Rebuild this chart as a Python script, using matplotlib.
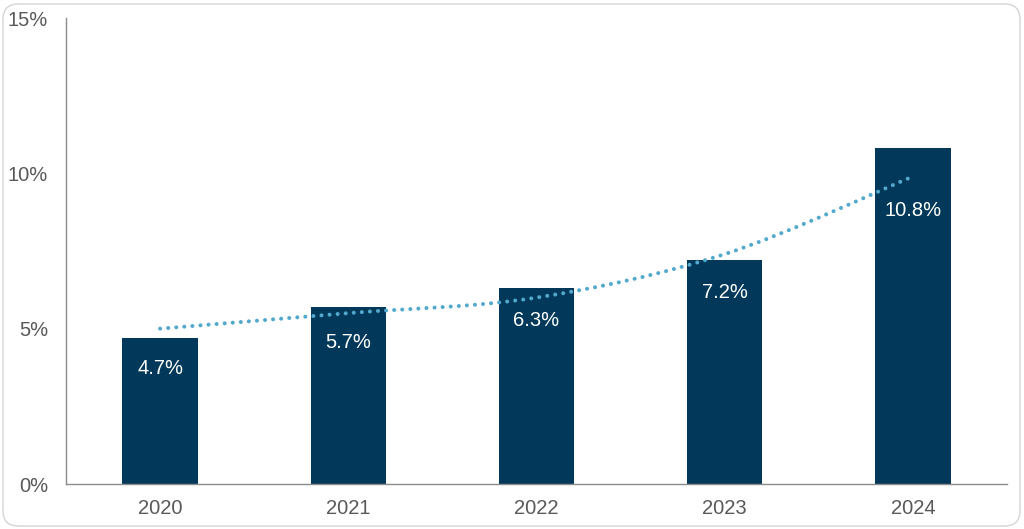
import numpy as np
import matplotlib
matplotlib.use("Agg")
import matplotlib.pyplot as plt
from matplotlib.patches import FancyBboxPatch
from matplotlib.path import Path
from matplotlib.patches import PathPatch

# ===== 数据 =====
years = ["2020", "2021", "2022", "2023", "2024"]
values = [4.7, 5.7, 6.3, 7.2, 10.8]
trend = [5.0, 5.5, 6.0, 7.4, 9.9]   # 图上的虚线趋势
y_ticks = [0, 5, 10, 15]

plt.rcParams['font.family'] = ['Liberation Sans', 'DejaVu Sans']

BAR_COLOR = '#023859'
TREND_COLOR = '#52A9CC'
TEXT_GRAY = '#595959'


def smooth_path(xs, ys, t=1 / 6):
    # Catmull-Rom 式的平滑曲线（类似 Excel 平滑线）
    verts = [(xs[0], ys[0])]
    codes = [Path.MOVETO]
    n = len(xs)
    for i in range(n - 1):
        x0, y0 = (xs[i - 1], ys[i - 1]) if i > 0 else (xs[i], ys[i])
        x1, y1 = xs[i], ys[i]
        x2, y2 = xs[i + 1], ys[i + 1]
        x3, y3 = (xs[i + 2], ys[i + 2]) if i + 2 < n else (x2, y2)
        c1 = (x1 + (x2 - x0) * t, y1 + (y2 - y0) * t)
        c2 = (x2 - (x3 - x1) * t, y2 - (y3 - y1) * t)
        verts += [c1, c2, (x2, y2)]
        codes += [Path.CURVE4] * 3
    return Path(verts, codes)


fig = plt.figure(figsize=(10.24, 5.29), dpi=100)
ax = fig.add_axes([66 / 1024, 45 / 529, 941 / 1024, 466 / 529])

# 圆角外框
frame = FancyBboxPatch((3 / 1024, 3 / 529), 1017 / 1024, 522 / 529,
                       boxstyle="round,pad=0,rounding_size=0.015",
                       transform=fig.transFigure, facecolor='none',
                       edgecolor='#d4d4d4', linewidth=1.0, mutation_aspect=1024 / 529)
fig.patches.append(frame)

x = np.arange(len(years))
ax.bar(x, values, width=0.4, color=BAR_COLOR, zorder=2)

# 柱内数值标签
label_offsets = [-31, -36, -32, -32, -62]
for xi, v, off in zip(x, values, label_offsets):
    ax.annotate(f"{v:.1f}%", (xi, v), xytext=(0, off), textcoords='offset pixels',
                ha='center', va='center', color='white', fontsize=14.5, zorder=4)

# 趋势线
tp = PathPatch(smooth_path(list(x), trend), facecolor='none', edgecolor=TREND_COLOR,
               linewidth=2.9, linestyle=(0, (0.01, 2.0)), capstyle='round', zorder=3)
ax.add_patch(tp)

ax.set_xlim(-0.5, len(years) - 0.5)
ax.set_ylim(0, 15)
ax.set_xticks(x)
ax.set_xticklabels(years)
ax.set_yticks(y_ticks)
ax.set_yticklabels([f"{t}%" for t in y_ticks])
ax.tick_params(axis='both', length=0, labelsize=14.5, labelcolor=TEXT_GRAY)
ax.tick_params(axis='y', pad=13)
ax.tick_params(axis='x', pad=11)

for s in ['top', 'right']:
    ax.spines[s].set_visible(False)
for s in ['left', 'bottom']:
    ax.spines[s].set_color('#8c8c8c')
    ax.spines[s].set_linewidth(1.0)

fig.savefig("out.png", dpi=100)
